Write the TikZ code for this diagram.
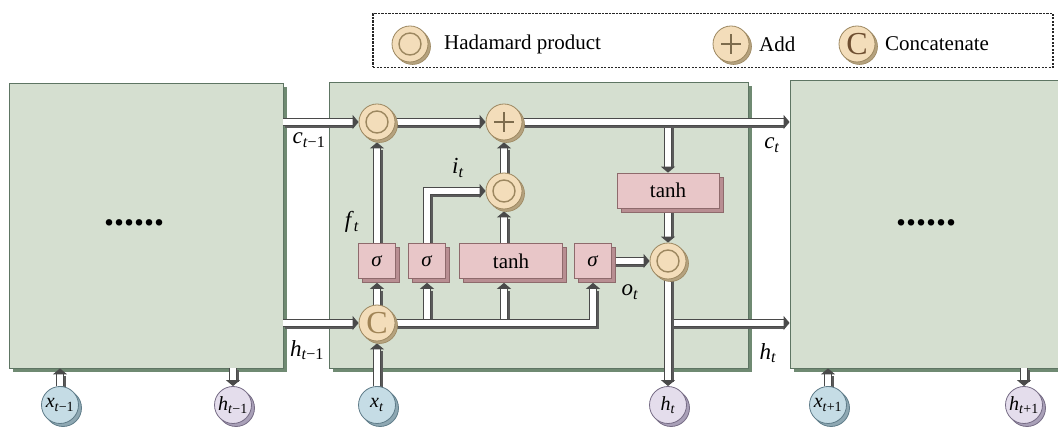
\documentclass[tikz,border=0pt]{standalone}
\usepackage{fontspec}
\setmainfont{Liberation Serif}
\usetikzlibrary{arrows.meta,shadows,calc}
\pgfdeclarelayer{bg}\pgfdeclarelayer{pipes}\pgfsetlayers{bg,pipes,main}
\definecolor{blockfill}{HTML}{D5DFD0}
\definecolor{blockline}{HTML}{5E7563}
\definecolor{blockside}{HTML}{6F8A72}
\definecolor{gatefill}{HTML}{F3DDBA}
\definecolor{gateline}{HTML}{9C8760}
\definecolor{gateshadow}{HTML}{B5A27E}
\definecolor{cfont}{HTML}{A08456}
\definecolor{cfontdark}{HTML}{6E4E30}
\definecolor{boxfill}{HTML}{E8C6C8}
\definecolor{boxline}{HTML}{8E6A6C}
\definecolor{boxside}{HTML}{B88E92}
\definecolor{xfill}{HTML}{C5DCE5}
\definecolor{xline}{HTML}{5F7C89}
\definecolor{xshadow}{HTML}{8EA8B3}
\definecolor{hfill}{HTML}{E4DDEC}
\definecolor{hline}{HTML}{766C85}
\definecolor{hshadow}{HTML}{A9A0B8}
\definecolor{pipeline}{HTML}{4A4A4A}
\definecolor{pipeshadow}{HTML}{5A5A5A}
\newcommand\sub[2]{\textit{#1}\textsubscript{#2}}
\newcommand\pipe[1]{\draw[pipesh] #1; \draw[pipe] #1;}
\tikzset{
  block/.style={rectangle, inner sep=0, fill=blockfill, draw=blockline, line width=0.8pt,
    general shadow={shadow xshift=4pt, shadow yshift=-4pt, fill=blockside, draw=none}},
  gate/.style={circle, minimum size=36pt, inner sep=0, fill=gatefill, draw=gateline, line width=0.8pt,
    general shadow={shadow xshift=2.5pt, shadow yshift=-2.5pt, fill=gateshadow, draw=gateline, line width=0.6pt}},
  had/.style={gate, path picture={\draw[gateline, line width=1.4pt] (path picture bounding box.center) circle[radius=11pt];}},
  addg/.style={gate, path picture={\draw[gateline!80!black, line width=1.2pt]
     ($(path picture bounding box.center)+(-10pt,0pt)$) -- ++(20pt,0pt)
     ($(path picture bounding box.center)+(0pt,-10pt)$) -- ++(0pt,20pt);}},
  concat/.style={gate, font=\fontsize{32}{32}\selectfont, text=cfont},
  gbox/.style={rectangle, minimum height=35pt, inner sep=0, fill=boxfill, draw=boxline, line width=0.7pt,
    general shadow={shadow xshift=4pt, shadow yshift=-4pt, fill=boxside, draw=boxline, line width=0.5pt},
    font=\fontsize{21}{22}\selectfont},
  xin/.style={circle, minimum size=37pt, inner sep=0, fill=xfill, draw=xline, line width=0.8pt,
    general shadow={shadow xshift=3pt, shadow yshift=-3pt, fill=xshadow, draw=xline, line width=0.8pt},
    font=\fontsize{20}{22}\selectfont},
  hin/.style={circle, minimum size=37pt, inner sep=0, fill=hfill, draw=hline, line width=0.8pt,
    general shadow={shadow xshift=3pt, shadow yshift=-3pt, fill=hshadow, draw=hline, line width=0.8pt},
    font=\fontsize{20}{22}\selectfont},
  lbl/.style={font=\fontsize{21}{24}\selectfont, inner sep=0},
  var/.style={font=\fontsize{23}{25}\selectfont, inner sep=0},
  dots/.style={font=\fontsize{40}{40}\selectfont\bfseries, inner sep=0, anchor=base},
  pipe/.style={draw=pipeline, line width=1.2pt, double=white, double distance=6pt, line join=miter,
    -{Triangle[length=6pt,width=14pt]}},
  pipesh/.style={draw=pipeshadow, line width=8.4pt, shorten >=6pt, transform canvas={shift={(1.8pt,-1.8pt)}}},
}
\begin{document}
\begin{tikzpicture}[x=1pt,y=-1pt]
\useasboundingbox (0,0) rectangle (1058,427);
\clip (0,0) rectangle (1058,427);
% legend
\node[draw=black!85, dash pattern=on 2.2pt off 1.3pt, line width=1.3pt, minimum width=680pt, minimum height=54pt, inner sep=0] (leg) at (713,40.5) {};
\node[had] (lg1) at (410,44) {};
\node[lbl, anchor=west] (lt1) at (444,44) {Hadamard product};
\node[addg] (lg2) at (731,44) {};
\node[lbl, anchor=west] (lt2) at (759,44) {Add};
\node[concat, text=cfontdark] (lg3) at (857,44) {C};
\node[lbl, anchor=west] (lt3) at (885,44) {Concatenate};
% blocks
\begin{pgfonlayer}{bg}
\node[block, minimum width=274pt, minimum height=285pt] (L) at (146,225.5) {};
\node[block, minimum width=419pt, minimum height=286pt] (M) at (538.5,225) {};
\node[block, minimum width=280pt, minimum height=288pt] (R) at (930,224) {};
\end{pgfonlayer}
\node[dots] (dl) at (134,226) {......};
\node[dots] (dr) at (926,226) {......};
% gates
\node[had] (fg) at (377,122) {};
\node[addg] (ad) at (504,122) {};
\node[had] (ig) at (504,191) {};
\node[had] (og) at (668,261) {};
\node[concat] (cc) at (377,323) {C};
\node[gbox, minimum width=37pt] (sf) at (377,261) {\textit{σ}};
\node[gbox, minimum width=37pt] (si) at (427,261) {\textit{σ}};
\node[gbox, minimum width=103pt] (t1) at (511,261) {tanh};
\node[gbox, minimum width=37pt] (so) at (593,261) {\textit{σ}};
\node[gbox, minimum width=102pt] (t2) at (668,190.5) {tanh};
% inputs / outputs
\node[xin] (xtm) at (60,405) {\sub{x}{\textit{t}−1}};
\node[hin] (htm) at (233,405) {\sub{h}{\textit{t}−1}};
\node[xin] (xt) at (377,405) {\sub{x}{\textit{t}}};
\node[hin] (ht) at (668,405) {\sub{h}{\textit{t}}};
\node[xin] (xtp) at (828,405) {\sub{x}{\textit{t}+1}};
\node[hin] (htp) at (1024,405) {\sub{h}{\textit{t}+1}};
% labels
\node[var] (lc1) at (309,140) {\sub{c}{\textit{t}−1}};
\node[var] (lct) at (772,145) {\sub{c}{\textit{t}}};
\node[var] (lh1) at (307,350) {\sub{h}{\textit{t}−1}};
\node[var] (lht) at (768,353) {\sub{h}{\textit{t}}};
\node[var] (lf) at (352,222) {\sub{f}{\textit{t}}};
\node[var] (li) at (458,168) {\sub{i}{\textit{t}}};
\node[var] (lo) at (630,292) {\sub{o}{\textit{t}}};
% pipes
\begin{pgfonlayer}{pipes}
\pipe{(t2 |- ad) -- (t2.north)}
\pipe{(si |- cc) -- ([yshift=-4pt]si.south)}
\pipe{(ig |- cc) -- ([yshift=-4pt]ig |- t1.south)}
\pipe{(og |- cc) -- (R.west |- cc)}
\pipe{(L.east |- fg) -- (fg.west)}
\pipe{(fg.east) -- (ad.west)}
\pipe{(ad.east) -- (R.west |- ad)}
\pipe{(L.east |- cc) -- (cc.west)}
\pipe{(cc.east) -- (so |- cc) -- ([yshift=-4pt]so.south)}
\pipe{(t2.south) -- (og.north)}
\pipe{(so.east) -- (og.west)}
\pipe{(og.south) -- (ht.north)}
\pipe{(xt.north) -- ([yshift=-2pt]cc.south)}
\pipe{(cc.north) -- ([yshift=-4pt]sf.south)}
\pipe{(sf.north) -- ([yshift=-2pt]fg.south)}
\pipe{(si.north) -- (si |- ig) -- (ig.west)}
\pipe{(ig |- t1.north) -- ([yshift=-2pt]ig.south)}
\pipe{(ig.north) -- ([yshift=-2pt]ad.south)}
\pipe{(xtm.north) -- (xtm |- L.south)}
\pipe{(htm |- L.south) -- (htm.north)}
\pipe{(xtp.north) -- (xtp |- R.south)}
\pipe{(htp |- R.south) -- (htp.north)}
\end{pgfonlayer}
\end{tikzpicture}
\end{document}
